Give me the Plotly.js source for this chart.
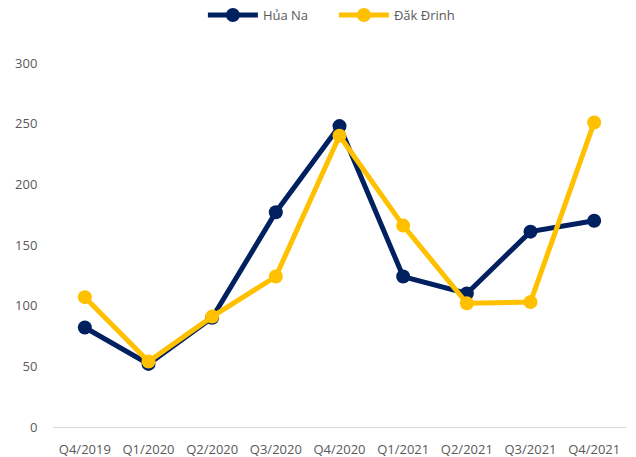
<!DOCTYPE html>
<html>
<head>
<meta charset="utf-8">
<script src="https://cdn.plot.ly/plotly-3.0.1.min.js"></script>
<style>html,body{margin:0;padding:0;background:#fff}#chart{width:636px;height:457px}</style>
</head>
<body>
<div id="chart"></div>
<script>
const categories = ["Q4/2019","Q1/2020","Q2/2020","Q3/2020","Q4/2020","Q1/2021","Q2/2021","Q3/2021","Q4/2021"];
const huaNa = [82, 52, 90, 177, 248, 124, 110, 161, 170];
const dakDrinh = [107, 54, 91, 124, 240, 166, 102, 103, 251];
const seriesNames = ["Hủa Na", "Đăk Đrinh"];
const yTicks = [0, 50, 100, 150, 200, 250, 300];

const traces = [
  {x: categories, y: huaNa, name: seriesNames[0], type: 'scatter', mode: 'lines+markers',
   line: {color: '#002060', width: 5}, marker: {color: '#002060', size: 14}},
  {x: categories, y: dakDrinh, name: seriesNames[1], type: 'scatter', mode: 'lines+markers',
   line: {color: '#FFC000', width: 5}, marker: {color: '#FFC000', size: 14}}
];
const layout = {
  width: 636, height: 457,
  margin: {l: 53, r: 10, t: 63, b: 30, autoexpand: false},
  paper_bgcolor: '#fff', plot_bgcolor: '#fff',
  font: {family: 'Open Sans, Noto Sans, sans-serif', size: 13, color: '#595959'},
  showlegend: true,
  legend: {orientation: 'h', x: 0.525, xref: 'container', xanchor: 'center', y: 0.967, yref: 'container', yanchor: 'middle',
           font: {size: 13, color: '#595959'}, itemwidth: 50, entrywidth: 66},
  xaxis: {type: 'category', range: [-0.5, 8.5], showgrid: false, zeroline: false, showline: true,
          linecolor: '#d9d9d9', linewidth: 1, ticks: 'outside', ticklen: 10, tickcolor: 'rgba(0,0,0,0)',
          tickfont: {size: 13}, automargin: false},
  yaxis: {range: [0, 300], tickvals: yTicks, showgrid: false, zeroline: false, showline: false,
          ticks: 'outside', ticklen: 12, tickcolor: 'rgba(0,0,0,0)', tickfont: {size: 13}, automargin: false},
  hovermode: false
};
Plotly.newPlot('chart', traces, layout, {displayModeBar: false, staticPlot: true});
</script>
</body>
</html>
